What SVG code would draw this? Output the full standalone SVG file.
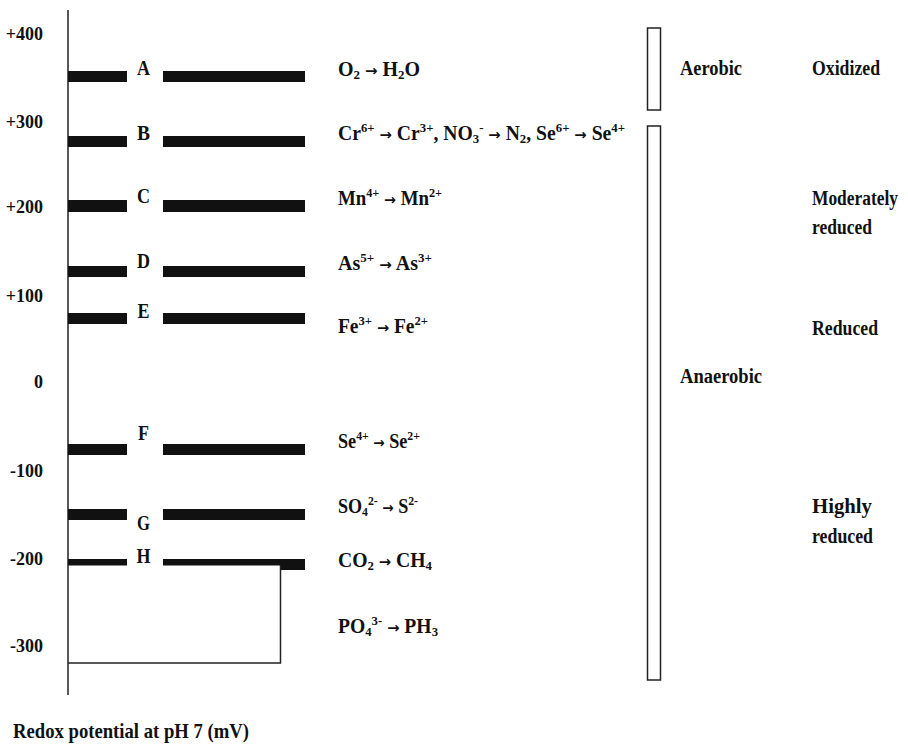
<svg xmlns="http://www.w3.org/2000/svg" width="908" height="748" viewBox="0 0 908 748">
<style>
text{font-family:"Liberation Serif","Times New Roman",serif;font-weight:bold;fill:#111}
.tick{font-size:18px;text-anchor:end}
.let{font-size:22px;text-anchor:middle}
.rx{font-size:20px}
.lab{font-size:20px}
.s{font-size:13px}
.ar{font-family:"DejaVu Sans",sans-serif;font-size:15px;font-weight:bold}
.bar{fill:#111}
.ln{stroke:#222;stroke-width:1.5;fill:none}
</style>
<rect width="908" height="748" fill="#fff"/>
<g id="axis">
<line class="ln" x1="68" y1="10" x2="68" y2="695"/>
<text class="tick" x="43" y="40">+400</text>
<text class="tick" x="43" y="128">+300</text>
<text class="tick" x="43" y="213">+200</text>
<text class="tick" x="43" y="302">+100</text>
<text class="tick" x="43" y="388">0</text>
<text class="tick" x="43" y="477">-100</text>
<text class="tick" x="43" y="565">-200</text>
<text class="tick" x="43" y="652">-300</text>
<text x="13" y="738" font-size="22" textLength="236" lengthAdjust="spacingAndGlyphs">Redox potential at pH 7 (mV)</text>
</g>
<g id="level-A">
<rect class="bar" x="68" y="71" width="59" height="11"/><rect class="bar" x="163" y="71" width="142" height="11"/>
<text class="let" x="143.5" y="75" textLength="13" lengthAdjust="spacingAndGlyphs">A</text>
<text class="rx" x="338" y="76" textLength="82" lengthAdjust="spacingAndGlyphs">O<tspan class="s" dy="3">2</tspan><tspan dy="-3"> </tspan><tspan class="ar">→</tspan> H<tspan class="s" dy="3">2</tspan><tspan dy="-3">O</tspan></text>
</g>
<g id="level-B">
<rect class="bar" x="68" y="136" width="59" height="11"/><rect class="bar" x="163" y="136" width="142" height="11"/>
<text class="let" x="143.5" y="140" textLength="13" lengthAdjust="spacingAndGlyphs">B</text>
<text class="rx" x="338" y="140" textLength="287" lengthAdjust="spacingAndGlyphs">Cr<tspan class="s" dy="-8">6+</tspan><tspan dy="8"> </tspan><tspan class="ar">→</tspan> Cr<tspan class="s" dy="-8">3+</tspan><tspan dy="8">, NO</tspan><tspan class="s" dy="3">3</tspan><tspan class="s" dy="-11">-</tspan><tspan dy="8"> </tspan><tspan class="ar">→</tspan> N<tspan class="s" dy="3">2</tspan><tspan dy="-3">, Se</tspan><tspan class="s" dy="-8">6+</tspan><tspan dy="8"> </tspan><tspan class="ar">→</tspan> Se<tspan class="s" dy="-8">4+</tspan></text>
</g>
<g id="level-C">
<rect class="bar" x="68" y="200" width="59" height="12"/><rect class="bar" x="163" y="200" width="142" height="12"/>
<text class="let" x="143.5" y="203" textLength="13" lengthAdjust="spacingAndGlyphs">C</text>
<text class="rx" x="338" y="205" textLength="104" lengthAdjust="spacingAndGlyphs">Mn<tspan class="s" dy="-8">4+</tspan><tspan dy="8"> </tspan><tspan class="ar">→</tspan> Mn<tspan class="s" dy="-8">2+</tspan></text>
</g>
<g id="level-D">
<rect class="bar" x="68" y="266" width="59" height="11"/><rect class="bar" x="163" y="266" width="142" height="11"/>
<text class="let" x="143.5" y="268" textLength="13" lengthAdjust="spacingAndGlyphs">D</text>
<text class="rx" x="338" y="270" textLength="94" lengthAdjust="spacingAndGlyphs">As<tspan class="s" dy="-8">5+</tspan><tspan dy="8"> </tspan><tspan class="ar">→</tspan> As<tspan class="s" dy="-8">3+</tspan></text>
</g>
<g id="level-E">
<rect class="bar" x="68" y="313" width="59" height="11"/><rect class="bar" x="163" y="313" width="142" height="11"/>
<text class="let" x="143.5" y="318" textLength="12" lengthAdjust="spacingAndGlyphs">E</text>
<text class="rx" x="338" y="333" textLength="90" lengthAdjust="spacingAndGlyphs">Fe<tspan class="s" dy="-8">3+</tspan><tspan dy="8"> </tspan><tspan class="ar">→</tspan> Fe<tspan class="s" dy="-8">2+</tspan></text>
</g>
<g id="level-F">
<rect class="bar" x="68" y="444" width="59" height="11"/><rect class="bar" x="163" y="444" width="142" height="11"/>
<text class="let" x="143.5" y="440" textLength="11" lengthAdjust="spacingAndGlyphs">F</text>
<text class="rx" x="338" y="448" textLength="82" lengthAdjust="spacingAndGlyphs">Se<tspan class="s" dy="-8">4+</tspan><tspan dy="8"> </tspan><tspan class="ar">→</tspan> Se<tspan class="s" dy="-8">2+</tspan></text>
</g>
<g id="level-G">
<rect class="bar" x="68" y="509" width="59" height="11"/><rect class="bar" x="163" y="509" width="142" height="11"/>
<text class="let" x="143.5" y="530" textLength="13" lengthAdjust="spacingAndGlyphs">G</text>
<text class="rx" x="338" y="513" textLength="80" lengthAdjust="spacingAndGlyphs">SO<tspan class="s" dy="3">4</tspan><tspan class="s" dy="-11">2-</tspan><tspan dy="8"> </tspan><tspan class="ar">→</tspan> S<tspan class="s" dy="-8">2-</tspan></text>
</g>
<g id="level-H">
<rect class="bar" x="68" y="559" width="59" height="6.5"/><rect class="bar" x="163" y="559" width="118" height="6.5"/><rect class="bar" x="280" y="559" width="25" height="11"/>
<text class="let" x="143.5" y="563" textLength="14" lengthAdjust="spacingAndGlyphs">H</text>
<text class="rx" x="338" y="567" textLength="94" lengthAdjust="spacingAndGlyphs">CO<tspan class="s" dy="3">2</tspan><tspan dy="-3"> </tspan><tspan class="ar">→</tspan> CH<tspan class="s" dy="3">4</tspan></text>
</g>
<g id="phosphate">
<text class="rx" x="338" y="633" textLength="100" lengthAdjust="spacingAndGlyphs">PO<tspan class="s" dy="3">4</tspan><tspan class="s" dy="-11">3-</tspan><tspan dy="8"> </tspan><tspan class="ar">→</tspan> PH<tspan class="s" dy="3">3</tspan></text>
</g>
<g id="connectors">
<polyline class="ln" points="68,663 280.5,663 280.5,565"/>
</g>
<g id="aerobic">
<rect class="ln" x="647.5" y="28" width="13" height="82"/>
<text class="lab" x="680" y="75" textLength="62" lengthAdjust="spacingAndGlyphs">Aerobic</text>
</g>
<g id="anaerobic">
<rect class="ln" x="647.5" y="126" width="13" height="554"/>
<text class="lab" x="680" y="383" textLength="82" lengthAdjust="spacingAndGlyphs">Anaerobic</text>
</g>
<g id="oxidized">
<text class="lab" x="812" y="75" textLength="68" lengthAdjust="spacingAndGlyphs">Oxidized</text>
</g>
<g id="moderately-reduced">
<text class="lab" x="812" y="205" textLength="86" lengthAdjust="spacingAndGlyphs">Moderately</text>
<text class="lab" x="812" y="234" textLength="60" lengthAdjust="spacingAndGlyphs">reduced</text>
</g>
<g id="reduced">
<text class="lab" x="812" y="335" textLength="66" lengthAdjust="spacingAndGlyphs">Reduced</text>
</g>
<g id="highly-reduced">
<text class="lab" x="812" y="513" textLength="60" lengthAdjust="spacingAndGlyphs">Highly</text>
<text class="lab" x="812" y="543" textLength="61" lengthAdjust="spacingAndGlyphs">reduced</text>
</g>
</svg>
